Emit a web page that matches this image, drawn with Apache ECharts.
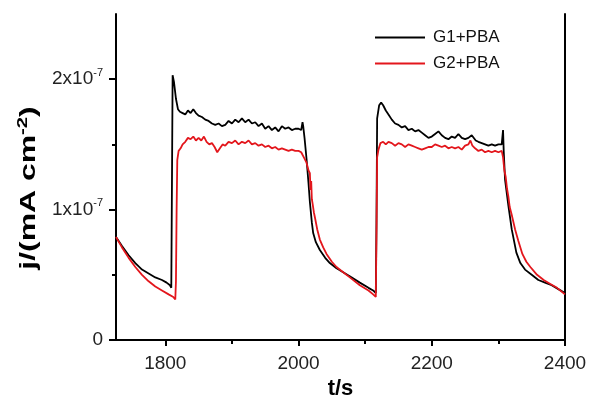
<!DOCTYPE html>
<html>
<head>
<meta charset="utf-8">
<script src="https://cdn.jsdelivr.net/npm/echarts@6/dist/echarts.min.js"></script>
<style>
  html, body { margin: 0; padding: 0; background: #fff; }
  #chart { width: 592px; height: 396px; }
</style>
</head>
<body>
<div id="chart"></div>
<script>
// current density in units of 1e-7 mA cm^-2, time in s
const g1Data = [
  [1726, 0.79], [1735, 0.72], [1745, 0.65], [1755, 0.59], [1765, 0.54], [1775, 0.51],
  [1785, 0.48], [1795, 0.46], [1802, 0.44], [1807, 0.42], [1809, 0.40], [1810, 1.20],
  [1811, 2.03], [1813, 1.98], [1816, 1.85], [1819, 1.77], [1822, 1.75], [1826, 1.74],
  [1830, 1.73], [1834, 1.76], [1838, 1.74], [1842, 1.77], [1846, 1.74], [1850, 1.72],
  [1855, 1.71], [1860, 1.69], [1865, 1.68], [1870, 1.66], [1875, 1.65], [1880, 1.66],
  [1885, 1.64], [1890, 1.65], [1895, 1.68], [1900, 1.66], [1905, 1.69], [1910, 1.67],
  [1915, 1.70], [1920, 1.67], [1925, 1.69], [1930, 1.66], [1935, 1.67], [1940, 1.64],
  [1945, 1.66], [1950, 1.62], [1955, 1.64], [1960, 1.61], [1965, 1.63], [1970, 1.60],
  [1975, 1.64], [1980, 1.62], [1985, 1.63], [1990, 1.61], [1995, 1.62], [2000, 1.62],
  [2004, 1.61], [2006, 1.67], [2007, 1.64], [2009, 1.55], [2012, 1.39], [2015, 1.20],
  [2017, 1.06], [2020, 0.90], [2022, 0.82], [2026, 0.75], [2032, 0.69], [2040, 0.63],
  [2047, 0.59], [2057, 0.55], [2067, 0.52], [2080, 0.48], [2092, 0.44], [2105, 0.40],
  [2112, 0.38], [2116, 0.36], [2117, 0.90], [2118, 1.70], [2121, 1.80], [2124, 1.82],
  [2127, 1.80], [2131, 1.76], [2135, 1.73], [2140, 1.69], [2145, 1.66], [2150, 1.65],
  [2155, 1.63], [2160, 1.64], [2165, 1.61], [2170, 1.62], [2175, 1.60], [2180, 1.61],
  [2185, 1.59], [2190, 1.57], [2195, 1.55], [2200, 1.56], [2205, 1.58], [2210, 1.60],
  [2215, 1.57], [2220, 1.55], [2225, 1.54], [2230, 1.56], [2235, 1.55], [2240, 1.58],
  [2245, 1.55], [2250, 1.54], [2255, 1.55], [2260, 1.57], [2263, 1.58], [2266, 1.53],
  [2270, 1.52], [2275, 1.51], [2280, 1.50], [2285, 1.49], [2290, 1.50], [2295, 1.49],
  [2300, 1.50], [2303, 1.51], [2305, 1.50], [2307, 1.61], [2308, 1.45], [2310, 1.23],
  [2315, 1.03], [2320, 0.85], [2327, 0.67], [2333, 0.59], [2340, 0.54], [2350, 0.50],
  [2360, 0.46], [2370, 0.44], [2380, 0.42], [2390, 0.39], [2400, 0.36]
];

const g2Data = [
  [1726, 0.79], [1735, 0.71], [1745, 0.63], [1755, 0.56], [1765, 0.50], [1775, 0.45],
  [1785, 0.41], [1795, 0.38], [1805, 0.35], [1812, 0.33], [1815, 0.31], [1816, 0.45],
  [1817, 1.00], [1818, 1.38], [1820, 1.45], [1823, 1.47], [1826, 1.50], [1830, 1.52],
  [1834, 1.55], [1838, 1.54], [1842, 1.56], [1846, 1.53], [1850, 1.55], [1854, 1.53],
  [1858, 1.56], [1862, 1.52], [1866, 1.50], [1870, 1.51], [1874, 1.48], [1878, 1.44],
  [1882, 1.47], [1886, 1.50], [1890, 1.49], [1895, 1.52], [1900, 1.51], [1905, 1.53],
  [1910, 1.50], [1915, 1.52], [1920, 1.51], [1925, 1.53], [1930, 1.50], [1935, 1.51],
  [1940, 1.49], [1945, 1.50], [1950, 1.48], [1955, 1.49], [1960, 1.47], [1965, 1.48],
  [1970, 1.46], [1975, 1.47], [1980, 1.46], [1985, 1.45], [1990, 1.46], [1995, 1.45],
  [2000, 1.45], [2004, 1.44], [2008, 1.40], [2012, 1.36], [2015, 1.30], [2017, 1.28],
  [2018, 1.15], [2019, 1.22], [2020, 1.08], [2021, 1.05], [2023, 0.98], [2025, 0.93],
  [2028, 0.85], [2032, 0.77], [2037, 0.71], [2042, 0.66], [2050, 0.60], [2057, 0.56],
  [2067, 0.52], [2077, 0.48], [2092, 0.42], [2105, 0.38], [2112, 0.35], [2116, 0.33],
  [2117, 0.80], [2118, 1.40], [2120, 1.46], [2123, 1.51], [2127, 1.52], [2131, 1.50],
  [2135, 1.52], [2140, 1.51], [2145, 1.49], [2150, 1.51], [2155, 1.50], [2160, 1.48],
  [2165, 1.50], [2170, 1.49], [2175, 1.48], [2180, 1.47], [2185, 1.46], [2190, 1.47],
  [2195, 1.48], [2200, 1.48], [2205, 1.50], [2210, 1.49], [2215, 1.48], [2220, 1.49],
  [2225, 1.47], [2230, 1.48], [2235, 1.47], [2240, 1.48], [2245, 1.46], [2250, 1.49],
  [2255, 1.50], [2258, 1.53], [2261, 1.49], [2265, 1.47], [2270, 1.45], [2275, 1.46],
  [2280, 1.44], [2285, 1.45], [2290, 1.44], [2295, 1.45], [2300, 1.44], [2305, 1.45],
  [2307, 1.40], [2309, 1.30], [2311, 1.25], [2313, 1.16], [2315, 1.10], [2317, 1.02],
  [2320, 0.96], [2325, 0.85], [2330, 0.76], [2336, 0.66], [2342, 0.60], [2348, 0.56],
  [2358, 0.50], [2368, 0.46], [2378, 0.43], [2388, 0.40], [2400, 0.35]
];

const seriesNames = ['G1+PBA', 'G2+PBA'];
const xMajorTicks = [1800, 2000, 2200, 2400];
const xMinorTicks = [1900, 2100, 2300];
const yMajorTicks = [0, 1, 2];
const yMinorTicks = [0.5, 1.5];

const chart = echarts.init(document.getElementById('chart'));

const axisColor = '#000';
const labelColor = '#222';

const option = {
  animation: false,
  backgroundColor: '#fff',
  grid: { left: 116, right: 27, top: 14, bottom: 56, outerBoundsMode: 'none', containLabel: false },
  legend: {
    data: seriesNames,
    orient: 'vertical',
    left: 370,
    top: 24,
    icon: 'rect',
    itemWidth: 50,
    itemHeight: 2,
    itemGap: 9,
    textStyle: {
      fontFamily: 'Liberation Sans',
      fontSize: 17,
      color: '#111',
      padding: [0, 0, 0, 3]
    }
  },
  xAxis: [
    {
      type: 'value',
      min: 1726,
      max: 2400,
      position: 'bottom',
      axisLine: { lineStyle: { color: axisColor, width: 2 } },
      axisTick: { customValues: xMajorTicks, length: 6, inside: false, lineStyle: { color: axisColor, width: 2 } },
      axisLabel: {
        customValues: xMajorTicks,
        margin: 14,
        fontFamily: 'Liberation Sans',
        fontSize: 19,
        color: labelColor,
        formatter: function (v) { return String(v); }
      },
      splitLine: { show: false },
      name: 't/s',
      nameLocation: 'middle',
      nameGap: 36,
      nameTextStyle: { fontFamily: 'Liberation Sans', fontWeight: 'bold', fontSize: 22, color: '#000' }
    },
    {
      type: 'value',
      min: 1726,
      max: 2400,
      position: 'bottom',
      axisLine: { show: false },
      axisTick: { customValues: xMinorTicks, length: 4, lineStyle: { color: axisColor, width: 2 } },
      axisLabel: { show: false },
      splitLine: { show: false }
    },
    {
      type: 'value',
      min: 1726,
      max: 2400,
      position: 'top',
      axisLine: { lineStyle: { color: axisColor, width: 2 } },
      axisTick: { show: false },
      axisLabel: { show: false },
      splitLine: { show: false }
    }
  ],
  yAxis: [
    {
      type: 'value',
      min: 0,
      max: 2.5,
      position: 'left',
      axisLine: { show: true, lineStyle: { color: axisColor, width: 2 } },
      axisTick: { show: true, customValues: yMajorTicks, length: 7, lineStyle: { color: axisColor, width: 2 } },
      axisLabel: {
        customValues: yMajorTicks,
        margin: 13,
        color: labelColor,
        fontFamily: 'Liberation Sans',
        fontSize: 19,
        formatter: function (v) {
          if (v === 0) return '{n|0}';
          return '{n|' + v + 'x10}{s|-7}';
        },
        rich: {
          n: { fontFamily: 'Liberation Sans', fontSize: 19, color: labelColor },
          s: { fontFamily: 'Liberation Sans', fontSize: 11, color: labelColor, padding: [0, 0, 13, 0] }
        }
      },
      splitLine: { show: false }
    },
    {
      type: 'value',
      min: 0,
      max: 2.5,
      position: 'left',
      axisLine: { show: false },
      axisTick: { show: true, customValues: yMinorTicks, length: 4, lineStyle: { color: axisColor, width: 2 } },
      axisLabel: { show: false },
      splitLine: { show: false }
    },
    {
      type: 'value',
      min: 0,
      max: 2.5,
      position: 'right',
      axisLine: { show: true, lineStyle: { color: axisColor, width: 2 } },
      axisTick: { show: false },
      axisLabel: { show: false },
      splitLine: { show: false }
    }
  ],
  graphic: [
    {
      type: 'text',
      x: 29,
      y: 188,
      rotation: Math.PI / 2,
      scaleX: 1.45,
      style: {
        text: '{a|j/(mA cm}{s|-2}{a|)}',
        align: 'center',
        verticalAlign: 'middle',
        fill: '#000',
        rich: {
          a: { fontFamily: 'Liberation Sans', fontWeight: 'bold', fontSize: 22, fill: '#000' },
          s: { fontFamily: 'Liberation Sans', fontWeight: 'bold', fontSize: 14, fill: '#000', padding: [0, 0, 12, 0] }
        }
      }
    }
  ],
  series: [
    {
      name: seriesNames[0],
      type: 'line',
      data: g1Data,
      showSymbol: false,
      xAxisIndex: 0,
      yAxisIndex: 0,
      lineStyle: { color: '#000', width: 1.8 },
      itemStyle: { color: '#000' }
    },
    {
      name: seriesNames[1],
      type: 'line',
      data: g2Data,
      showSymbol: false,
      xAxisIndex: 0,
      yAxisIndex: 0,
      lineStyle: { color: '#e3161c', width: 1.8 },
      itemStyle: { color: '#e3161c' }
    }
  ]
};

chart.setOption(option);
</script>
</body>
</html>
